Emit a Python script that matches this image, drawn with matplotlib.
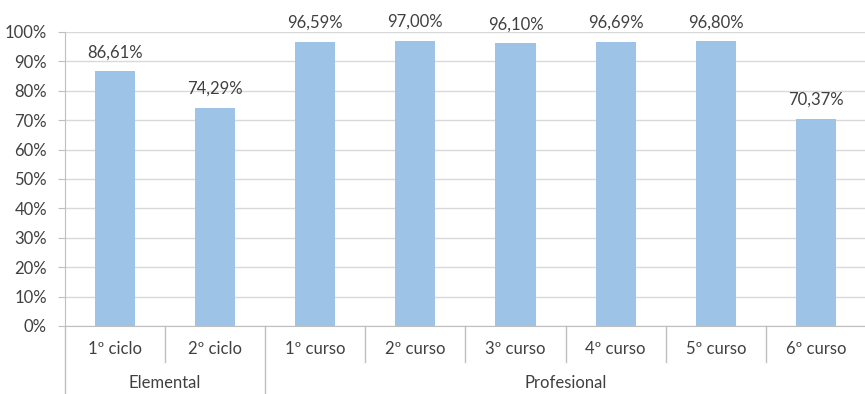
import numpy as np
from matplotlib import pyplot as plt

# Data
categorias = ['1º ciclo', '2º ciclo', '1º curso', '2º curso', '3º curso',
              '4º curso', '5º curso', '6º curso']
valores = [86.61, 74.29, 96.59, 97.00, 96.10, 96.69, 96.80, 70.37]
grupos = ['Elemental', 'Profesional']
grupo_n = [2, 6]

plt.rcParams['font.family'] = ['Lato', 'DejaVu Sans']
texto = '#404040'
linea = '#BFBFBF'

fig = plt.figure(figsize=(8.65, 3.94), dpi=100)
ax = fig.add_axes([0.0751, 0.1726, 0.926, 0.7462])

x = np.arange(len(categorias))
ax.bar(x, valores, width=0.4, color='#9DC3E6', zorder=3)
for xi, v in zip(x, valores):
    ax.annotate(f'{v:.2f}%'.replace('.', ','), (xi, v), xytext=(0, 8),
                textcoords='offset points', ha='center', va='bottom',
                fontsize=12, color=texto)

ax.set_xlim(-0.5, len(categorias) - 0.5)
ax.set_ylim(0, 100)
ax.set_yticks(np.arange(0, 101, 10))
ax.set_yticklabels([f'{t}%' for t in range(0, 101, 10)])
ax.yaxis.grid(True, color='#D9D9D9', linewidth=1, zorder=0)
ax.tick_params(axis='y', length=5, color=linea, labelsize=12, labelcolor=texto, pad=8)
ax.set_xticks([])

for s in ['top', 'right']:
    ax.spines[s].set_visible(False)
ax.spines['left'].set_color(linea)
ax.spines['bottom'].set_color(linea)

# Category labels and separators
tr = ax.get_xaxis_transform()
for xi, c in zip(x, categorias):
    ax.text(xi, -0.078, c, transform=tr, ha='center', va='center',
            fontsize=12, color=texto)
bordes = np.cumsum([0] + grupo_n) - 0.5
for b in np.arange(-0.5, len(categorias)):
    largo = -0.235 if b in bordes else -0.122
    ax.plot([b, b], [0, largo], transform=tr, color=linea, linewidth=1,
            clip_on=False)
for i, g in enumerate(grupos):
    centro = (bordes[i] + bordes[i + 1]) / 2
    ax.text(centro, -0.193, g, transform=tr, ha='center', va='center',
            fontsize=12, color=texto)

plt.savefig('out.png', dpi=100)
